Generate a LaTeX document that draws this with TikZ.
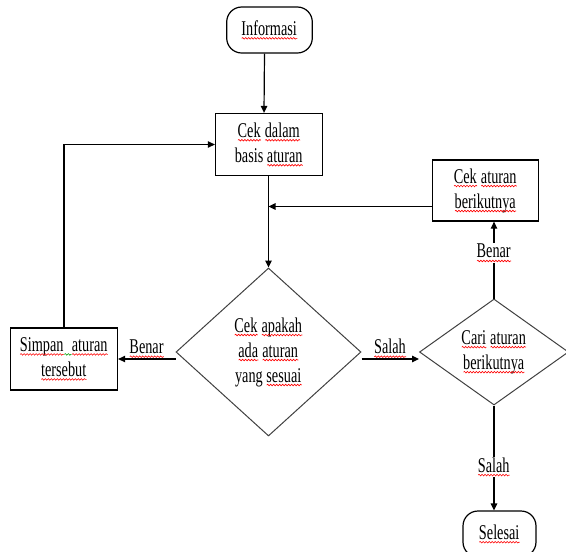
\documentclass[tikz,border=0pt]{standalone}
\usepackage{fontspec}
\setmainfont{Liberation Serif}[FakeStretch=0.68]
\usetikzlibrary{shapes.geometric,arrows.meta,decorations.pathmorphing}
\newsavebox\rwbox
\newcommand\wavy[2]{\sbox\rwbox{#2}\leavevmode\rlap{\usebox\rwbox}\tikz[baseline=0pt]\draw[#1, sharp corners, arrows=-, line width=0.6pt, decorate, decoration={snake, amplitude=0.8pt, segment length=3pt}] (0pt,-3pt) -- (\wd\rwbox,-3pt);}
\newcommand\rw[1]{\wavy{red}{#1}}
\begin{document}
\begin{tikzpicture}[x=1pt,y=-1pt,
  every node/.style={font=\fontsize{21}{25}\selectfont, align=center},
  box/.style={draw, line width=1.3pt, inner sep=0pt},
  term/.style={draw, line width=1.2pt, rounded corners=15pt, inner sep=0pt},
  dec/.style={diamond, draw=black!75, line width=1pt, inner sep=0pt},
  conn/.style={line width=1.2pt, -{Triangle[length=7pt,width=6.5pt]}},
  lbl/.style={fill=white, inner sep=1pt}]
\useasboundingbox (0,0) rectangle (566,552);
\node[term, minimum width=85.6pt, minimum height=46pt] (info) at (269.5,30) {\rw{Informasi}};
\node[box, minimum width=107pt, minimum height=62pt] (cek) at (269,144.5) {\rw{Cek} \rw{dalam}\\basis \rw{aturan}};
\node[box, minimum width=106pt, minimum height=61pt] (next) at (485.5,190.5) {\rw{Cek} \rw{aturan}\\\rw{berikutnya}};
\node[dec, minimum width=185pt, minimum height=168pt] (d1) at (268.5,352) {};
\node (d1text) at (d1.center) {\rw{Cek} \rw{apakah}\\\rw{ada} \rw{aturan}\\yang \rw{sesuai}};
\node[box, minimum width=107pt, minimum height=62pt] (simpan) at (64,359) {\rw{Simpan}\wavy{green!60!black}{\ \ }\rw{aturan}\\\rw{tersebut}};
\node[dec, minimum width=149pt, minimum height=106pt] (d2) at (494,352) {};
\node (d2text) at (d2.center) {\rw{Cari} \rw{aturan}\\\rw{berikutnya}};
\node[term, minimum width=73pt, minimum height=46pt] (end) at (499.5,534) {\rw{Selesai}};
\coordinate (join) at (268.5,206.5);
\draw[conn] ([xshift=-5pt]info.south) -- ([xshift=-5pt]cek.north);
\draw[line width=1.2pt] (cek.south -| d1.north) -- (join);
\draw[conn] (join) -- (d1.north);
\draw[conn] ([yshift=-16pt]next.west) -- (join);
\draw[conn] (simpan.north) |- (cek.west);
\draw[conn] (d1.west |- simpan.east) -- (simpan.east) node[midway, above, inner sep=1pt] {\rw{Benar}};
\draw[conn] (d1.east |- simpan.east) -- (d2.west |- simpan.east) node[midway, above, inner sep=1pt] {\rw{Salah}};
\draw[conn] (d2.north) -- (next.south -| d2.north) node[pos=0.59, lbl] {\rw{Benar}};
\draw[conn] (d2.south) -- (d2.south |- end.north) node[pos=0.585, lbl] {\rw{Salah}};
\end{tikzpicture}
\end{document}
